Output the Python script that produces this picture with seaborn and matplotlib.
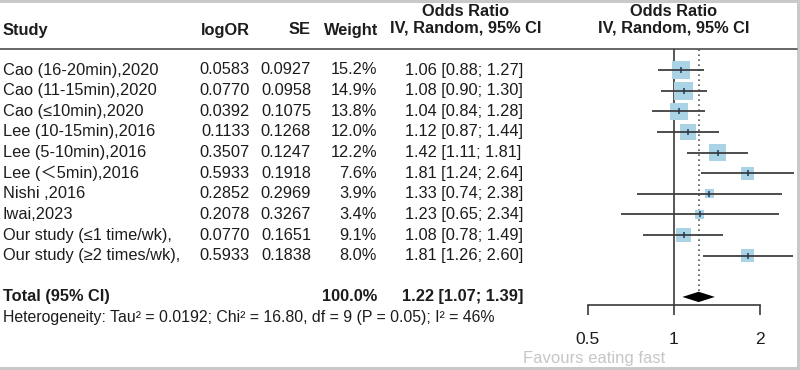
import numpy as np
import pandas as pd
import matplotlib
matplotlib.use("Agg")
import matplotlib.pyplot as plt
import matplotlib.transforms as mtrans
from matplotlib.patches import Rectangle
import seaborn as sns

# ---------------- data ----------------
studies = ["Cao (16-20min),2020", "Cao (11-15min),2020", "Cao (\u226410min),2020",
           "Lee (10-15min),2016", "Lee (5-10min),2016", "Lee (\uff1c5min),2016",
           "Nishi ,2016", "Iwai,2023", "Our study (\u22641 time/wk),",
           "Our study (\u22652 times/wk),"]
log_or = ["0.0583", "0.0770", "0.0392", "0.1133", "0.3507", "0.5933", "0.2852",
          "0.2078", "0.0770", "0.5933"]
se = ["0.0927", "0.0958", "0.1075", "0.1268", "0.1247", "0.1918", "0.2969",
      "0.3267", "0.1651", "0.1838"]
weights = [15.2, 14.9, 13.8, 12.0, 12.2, 7.6, 3.9, 3.4, 9.1, 8.0]
odds = [1.06, 1.08, 1.04, 1.12, 1.42, 1.81, 1.33, 1.23, 1.08, 1.81]
ci_low = [0.88, 0.90, 0.84, 0.87, 1.11, 1.24, 0.74, 0.65, 0.78, 1.26]
ci_high = [1.27, 1.30, 1.28, 1.44, 1.81, 2.64, 2.38, 2.34, 1.49, 2.60]
total_weight = 100.0
total_or, total_low, total_high = 1.22, 1.07, 1.39
heterogeneity = "Heterogeneity: Tau\u00b2 = 0.0192; Chi\u00b2 = 16.80, df = 9 (P = 0.05); I\u00b2 = 46%"
tick_values = [0.5, 1, 2]
tick_labels = ["0.5", "1", "2"]
favours_label = "Favours eating fast"

df = pd.DataFrame({"study": studies, "odds": odds, "low": ci_low,
                   "high": ci_high, "weight": weights})
df["row"] = np.arange(len(df))
total_row = len(df) + 1
het_row = total_row + 1

# ---------------- style ----------------
sns.set_theme(style="white")
plt.rcParams["font.family"] = ["Liberation Sans", "Noto Sans CJK SC", "DejaVu Sans"]
TXT = "#1c1c1c"
FS = 11.8

W, H = 800, 370
fig = plt.figure(figsize=(W / 100, H / 100), dpi=100)

# text layer in pixel coordinates
tax = fig.add_axes([0, 0, 1, 1])
tax.set_xlim(0, W)
tax.set_ylim(H, 0)
tax.axis("off")

# forest plot axes
top_px, bot_px = 49, 305
left_px, right_px = 560, 797
x0_px, px_per_doubling = 674, 86
row0_px, row_step = 70, 20.63
ax = fig.add_axes([left_px / W, (H - bot_px) / H, (right_px - left_px) / W,
                   (bot_px - top_px) / H])
ax.set_xscale("log", base=2)
ax.set_xlim(2 ** ((left_px - x0_px) / px_per_doubling),
            2 ** ((right_px - x0_px) / px_per_doubling))
ax.set_ylim((bot_px - row0_px) / row_step, (top_px - row0_px) / row_step)
ax.patch.set_alpha(0)

# reference lines
ax.axvline(1, color="#3a3a3a", lw=1.2, zorder=1)
ax.axvline(total_or, ymin=0.055, ymax=1, color="#555555", lw=1.2,
           linestyle=(0, (1, 2)), zorder=1)

# boxes
K = 11.5
sns.scatterplot(data=df, x="odds", y="row", size="weight",
                sizes=(K * min(weights), K * max(weights)), marker="s",
                color="#aad4e5", edgecolor="none", linewidth=0, legend=False,
                ax=ax, zorder=2)
# CI lines
ax.hlines(df["row"], df["low"], df["high"], color="#3f3f3f", lw=1.3, zorder=3)
# center ticks
sns.scatterplot(data=df, x="odds", y="row", marker="|", s=14, color="#1b3a5c",
                linewidth=1.1, legend=False, ax=ax, zorder=4)
# diamond
dh = 0.25
ax.fill([total_low, total_or, total_high, total_or],
        [total_row, total_row - dh, total_row, total_row + dh],
        color="black", zorder=4, lw=0)

for s in ["top", "left", "right"]:
    ax.spines[s].set_visible(False)
ax.spines["bottom"].set_bounds(tick_values[0], tick_values[-1])
ax.spines["bottom"].set_color("#3a3a3a")
ax.spines["bottom"].set_linewidth(1.2)
ax.set_xticks(tick_values)
ax.set_xticklabels(tick_labels)
ax.minorticks_off()
ax.tick_params(axis="x", bottom=True, direction="out", length=7.5, width=1.2,
               color="#3a3a3a", labelsize=12.5, pad=12, labelcolor=TXT)
ax.set_yticks([])
ax.set_xlabel("")
ax.set_ylabel("")

# ---------------- table text ----------------
rowtrans = mtrans.blended_transform_factory(tax.transData, ax.transData)
for i, r in df.iterrows():
    y = r["row"]
    tax.text(3, y, r["study"], transform=rowtrans, ha="left", va="center",
             fontsize=FS, color=TXT)
    tax.text(250, y, log_or[i], transform=rowtrans, ha="right", va="center",
             fontsize=FS, color=TXT)
    tax.text(311, y, se[i], transform=rowtrans, ha="right", va="center",
             fontsize=FS, color=TXT)
    tax.text(377, y, f"{r['weight']:.1f}%", transform=rowtrans, ha="right",
             va="center", fontsize=FS, color=TXT)
    tax.text(405, y, f"{r['odds']:.2f} [{r['low']:.2f}; {r['high']:.2f}]",
             transform=rowtrans, ha="left", va="center", fontsize=FS, color=TXT)

tax.text(3, total_row, "Total (95% CI)", transform=rowtrans, ha="left",
         va="center", fontsize=FS, fontweight="bold", color=TXT)
tax.text(377, total_row, f"{total_weight:.1f}%", transform=rowtrans, ha="right",
         va="center", fontsize=FS, fontweight="bold", color=TXT)
tax.text(402, total_row, f"{total_or:.2f} [{total_low:.2f}; {total_high:.2f}]",
         transform=rowtrans, ha="left", va="center", fontsize=FS,
         fontweight="bold", color=TXT)
tax.text(3, het_row, heterogeneity, transform=rowtrans, ha="left", va="center",
         fontsize=11.4, color=TXT)

# headers
hb = dict(fontsize=FS, fontweight="bold", color=TXT, va="center")
tax.text(3, 30, "Study", ha="left", **hb)
tax.text(250, 30, "logOR", ha="right", **hb)
tax.text(311, 30, "SE", ha="right", **hb)
tax.text(378, 30, "Weight", ha="right", **hb)
tax.text(466, 11, "Odds Ratio", ha="center", **hb)
tax.text(466, 28, "IV, Random, 95% CI", ha="center", **hb)
tax.text(674, 11, "Odds Ratio", ha="center", **hb)
tax.text(674, 28, "IV, Random, 95% CI", ha="center", **hb)
tax.plot([0, 797], [49, 49], color="#5a5a5a", lw=1.3)

tax.text(594, 358, favours_label, ha="center", va="center", fontsize=12,
         color="#c6c6c6")

# screenshot frame
tax.add_patch(Rectangle((0, 0), W, 2.5, color="#c9c9c9", lw=0))
tax.add_patch(Rectangle((0, 367), W, 3, color="#c9c9c9", lw=0))
tax.add_patch(Rectangle((797, 0), 3, H, color="#c9c9c9", lw=0))

fig.savefig("out.png", dpi=100)
